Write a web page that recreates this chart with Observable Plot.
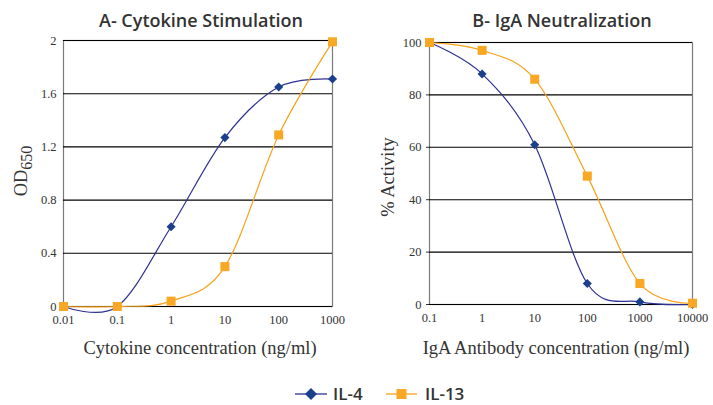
<!DOCTYPE html>
<html>
<head>
<meta charset="utf-8">
<script src="https://cdn.jsdelivr.net/npm/d3@7"></script>
<script src="https://cdn.jsdelivr.net/npm/@observablehq/plot@0.6"></script>
<style>
  html, body { margin: 0; padding: 0; background: #fff; }
  #wrap { position: relative; width: 713px; height: 405px; overflow: hidden; background: #fff; }
  .panel { position: absolute; top: 0; }
  .lbl { position: absolute; line-height: 1; white-space: nowrap; color: #333; }
  .title { font-family: "Open Sans", sans-serif; font-weight: 600; font-size: 18px; color: #333; }
  .axt { font-family: "Liberation Serif", "DejaVu Serif", serif; font-size: 18.5px; color: #333; }
  .leg { font-family: "Open Sans", sans-serif; font-weight: 600; font-size: 17px; color: #333; }
</style>
</head>
<body>
<div id="wrap"></div>
<script>
// ---- Data ----
const seriesNames = ["IL-4", "IL-13"];
const seriesColors = ["#2e3192", "#f7a21b"];
const markerColors = ["#1c3f8c", "#f9a825"];

// Panel A – Cytokine Stimulation
const concA = [0.01, 0.1, 1, 10, 100, 1000];
const il4A = [0, 0, 0.6, 1.27, 1.65, 1.71];
const il13A = [0, 0, 0.04, 0.3, 1.29, 1.99];
const yTicksA = [0, 0.4, 0.8, 1.2, 1.6, 2];

// Panel B – IgA Neutralization
const concB = [0.1, 1, 10, 100, 1000, 10000];
const il4B = [100, 88, 61, 8, 1, 0];
const il13B = [100, 97, 86, 49, 8, 0.5];
const yTicksB = [0, 20, 40, 60, 80, 100];

const wrap = document.getElementById("wrap");

function rows(xs, ys) { return xs.map((x, i) => ({x, y: ys[i]})); }

function panel({conc, s1, s2, yTicks, yDomain, width, left, marginLeft, marginRight, marginTop, marginBottom, yTickSize, yTickPad}) {
  const d1 = rows(conc, s1), d2 = rows(conc, s2);
  const svg = Plot.plot({
    width, height: 365,
    marginLeft, marginRight, marginTop, marginBottom,
    x: {type: "log", domain: [conc[0], conc[conc.length - 1]]},
    y: {domain: yDomain},
    style: {fontFamily: "'Liberation Serif', 'DejaVu Serif', serif", fontSize: "12.5px", color: "#333", background: "transparent", overflow: "visible"},
    marks: [
      Plot.frame({stroke: "#7a7a7a", strokeWidth: 1.2}),
      Plot.ruleY(yTicks, {stroke: "#000", strokeWidth: 1.1}),
      Plot.axisX({ticks: conc, tickSize: 0, tickPadding: 9, tickFormat: d => String(d), label: null, fontSize: 12.5}),
      Plot.axisY({ticks: yTicks, tickSize: yTickSize, tickPadding: yTickPad, tickFormat: d => String(d), label: null, stroke: "#333", fontSize: 12.5}),
      Plot.line(d1, {x: "x", y: "y", curve: "cardinal", stroke: seriesColors[0], strokeWidth: 1.2}),
      Plot.dot(d1, {x: "x", y: "y", symbol: d3.symbolDiamond2, r: 4.1, fill: markerColors[0], stroke: "none"}),
      Plot.line(d2, {x: "x", y: "y", curve: "cardinal", stroke: seriesColors[1], strokeWidth: 1.2}),
      Plot.dot(d2, {x: "x", y: "y", symbol: "square", r: 5.1, fill: markerColors[1], stroke: "none"})
    ]
  });
  svg.classList.add("panel");
  svg.style.left = left + "px";
  wrap.appendChild(svg);
}

panel({conc: concA, s1: il4A, s2: il13A, yTicks: yTicksA, yDomain: [0, 2],
  width: 356, left: 0, marginLeft: 63, marginRight: 24, marginTop: 40, marginBottom: 59, yTickSize: 0, yTickPad: 7});
panel({conc: concB, s1: il4B, s2: il13B, yTicks: yTicksB, yDomain: [0, 100],
  width: 357, left: 356, marginLeft: 73, marginRight: 21, marginTop: 42, marginBottom: 61, yTickSize: 3, yTickPad: 5});

// ---- Text labels ----
function label(html, cls, cx, cy, rotate) {
  const d = document.createElement("div");
  d.className = "lbl " + cls;
  d.innerHTML = html;
  d.style.left = cx + "px";
  d.style.top = cy + "px";
  d.style.transform = "translate(-50%,-50%)" + (rotate ? " rotate(-90deg)" : "");
  wrap.appendChild(d);
  return d;
}
label("A- Cytokine Stimulation", "title", 201, 20);
label("B- IgA Neutralization", "title", 562, 20);
label("Cytokine concentration (ng/ml)", "axt", 200, 348);
label("IgA Antibody concentration (ng/ml)", "axt", 556, 348);
label("OD<span style=\"font-size:16px;position:relative;top:5px\">650</span>", "axt", 21, 171, true);
label("% Activity", "axt", 388, 177, true);

// ---- Legend ----
const legendItems = [
  {name: seriesNames[0], color: seriesColors[0], mcolor: markerColors[0], x0: 295, x1: 327, tx: 333, shape: "diamond"},
  {name: seriesNames[1], color: seriesColors[1], mcolor: markerColors[1], x0: 386, x1: 417, tx: 425, shape: "square"}
];
const NS = "http://www.w3.org/2000/svg";
const lsvg = document.createElementNS(NS, "svg");
lsvg.setAttribute("width", 713); lsvg.setAttribute("height", 405);
lsvg.style.position = "absolute"; lsvg.style.left = "0"; lsvg.style.top = "0";
legendItems.forEach(it => {
  const y = 394;
  const ln = document.createElementNS(NS, "line");
  ln.setAttribute("x1", it.x0); ln.setAttribute("x2", it.x1);
  ln.setAttribute("y1", y); ln.setAttribute("y2", y);
  ln.setAttribute("stroke", it.color); ln.setAttribute("stroke-width", 1.3);
  lsvg.appendChild(ln);
  const cx = (it.x0 + it.x1) / 2;
  const m = document.createElementNS(NS, "path");
  if (it.shape === "diamond") m.setAttribute("d", `M${cx},${y-6}L${cx+6},${y}L${cx},${y+6}L${cx-6},${y}Z`);
  else m.setAttribute("d", `M${cx-5},${y-5}h10v10h-10Z`);
  m.setAttribute("fill", it.mcolor);
  lsvg.appendChild(m);
});
wrap.appendChild(lsvg);
legendItems.forEach(it => {
  const d = document.createElement("div");
  d.className = "lbl leg";
  d.textContent = it.name;
  d.style.left = it.tx + "px";
  d.style.top = "393px";
  d.style.transform = "translate(0,-50%)";
  wrap.appendChild(d);
});
</script>
</body>
</html>
